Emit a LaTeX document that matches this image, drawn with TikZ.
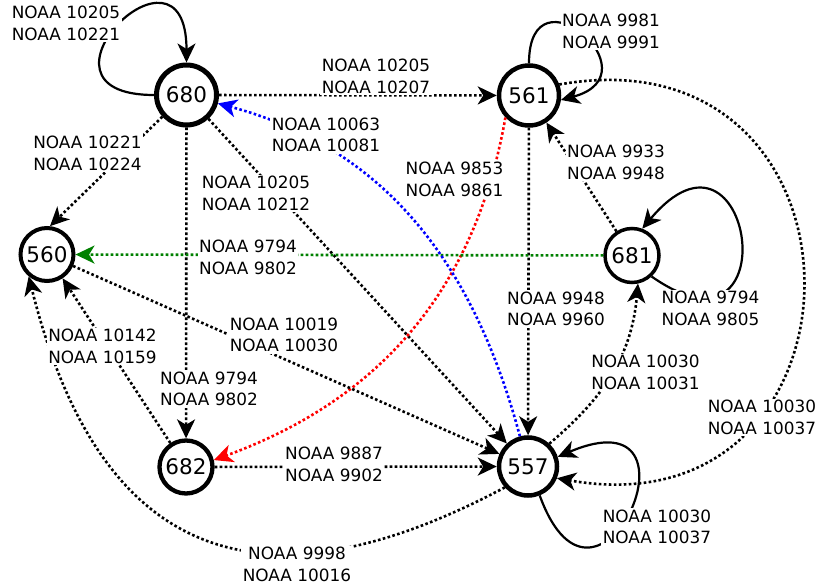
\documentclass[tikz,border=0pt]{standalone}
\usepackage{fontspec}
\setmainfont{DejaVu Sans}
\usetikzlibrary{arrows.meta}

\newcommand{\labfont}{\fontsize{16.9}{21.7}\selectfont}
\newcommand{\numfont}{\fontsize{21.5}{25}\selectfont}

\begin{document}
\begin{tikzpicture}[>={Stealth[length=19pt,width=18pt,inset=5.5pt]},->,x=1pt,y=1pt,
    region/.style={circle,draw,fill=white,inner sep=0pt,font=\numfont},
    flow/.style={line width=2.6pt,dash pattern=on 2.6pt off 2.4pt},
    self/.style={line width=2.2pt},
    lbl/.style={fill=white,inner sep=1.5pt,align=center,font=\labfont}]

    \useasboundingbox (0,0) rectangle (819,586);

    % active regions
    \node[region,minimum size=60pt,line width=5pt]   (n680) at (186.5,491) {680};
    \node[region,minimum size=60pt,line width=4.5pt] (n561) at (529,490.5) {561};
    \node[region,minimum size=53pt,line width=4pt]   (n560) at (47,331.5)  {560};
    \node[region,minimum size=54pt,line width=3.5pt] (n681) at (632,330.5) {681};
    \node[region,minimum size=53pt,line width=4.3pt] (n682) at (186,119)   {682};
    \node[region,minimum size=58pt,line width=4.5pt] (n557) at (528,119.5) {557};

    \path (n680)      edge[self,out=180,in=90,looseness=7.8] (n680)
                      edge[flow] (n561)
                      edge[flow] (n682)
                      edge[flow] (n557)
          (n680.-138) edge[flow] (n560.84)
          (n561.90)   edge[self,out=90,in=15,looseness=5.25] (n561.-8)
          (n561)      edge[flow] (n557)
          (n561.-137) edge[flow,red,out=-100,in=20] (n682.14)
          (n561.20)   edge[flow,out=10,in=-10,looseness=2.15] (n557.-22)
          (n681)      edge[flow] (n561)
                      edge[flow,green!50!black] (n560)
          (n681.-47)  edge[self,out=-35,in=50,looseness=9] (n681.69)
          (n560)      edge[flow] (n557)
          (n682)      edge[flow] (n560)
                      edge[flow] (n557)
          (n557)      edge[flow,blue,out=105,in=-15] (n680)
          (n557.47)   edge[flow,out=40,in=-95] (n681.-78)
          (n557.-138) edge[flow,out=-152,in=-76,looseness=1.4] (n560.-130)
          (n557.-68)  edge[self,out=-70,in=23,looseness=10.2] (n557.18);

    % edge labels
    \node[lbl] (l1)  at (66,562.8)   {NOAA 10205\\NOAA 10221};
    \node[lbl] (l2)  at (376,509.3)  {NOAA 10205\\NOAA 10207};
    \node[lbl] (l3)  at (326,451.1)  {NOAA 10063\\NOAA 10081};
    \node[lbl] (l4)  at (87.5,432.8) {NOAA 10221\\NOAA 10224};
    \node[lbl] (l5)  at (256,392.7)  {NOAA 10205\\NOAA 10212};
    \node[lbl] (l6)  at (611,554.8)  {NOAA 9981\\NOAA 9991};
    \node[lbl] (l7)  at (454.5,406.3) {NOAA 9853\\NOAA 9861};
    \node[lbl] (l8)  at (616,423.3)  {NOAA 9933\\NOAA 9948};
    \node[lbl] (l9)  at (248,328.5)  {NOAA 9794\\NOAA 9802};
    \node[lbl] (l10) at (710.5,277.5) {NOAA 9794\\NOAA 9805};
    \node[lbl] (l11) at (556,277.2)  {NOAA 9948\\NOAA 9960};
    \node[lbl] (l12) at (284,251)    {NOAA 10019\\NOAA 10030};
    \node[lbl] (l13) at (102.5,239.3) {NOAA 10142\\NOAA 10159};
    \node[lbl] (l14) at (209,197.2)  {NOAA 9794\\NOAA 9802};
    \node[lbl] (l15) at (645.5,213.5) {NOAA 10030\\NOAA 10031};
    \node[lbl] (l16) at (762,168.5)  {NOAA 10030\\NOAA 10037};
    \node[lbl] (l17) at (334,121.3)  {NOAA 9887\\NOAA 9902};
    \node[lbl] (l18) at (657,59.2)   {NOAA 10030\\NOAA 10037};
    \node[lbl] (l19) at (297,21.7)   {NOAA 9998\\NOAA 10016};

\end{tikzpicture}
\end{document}
